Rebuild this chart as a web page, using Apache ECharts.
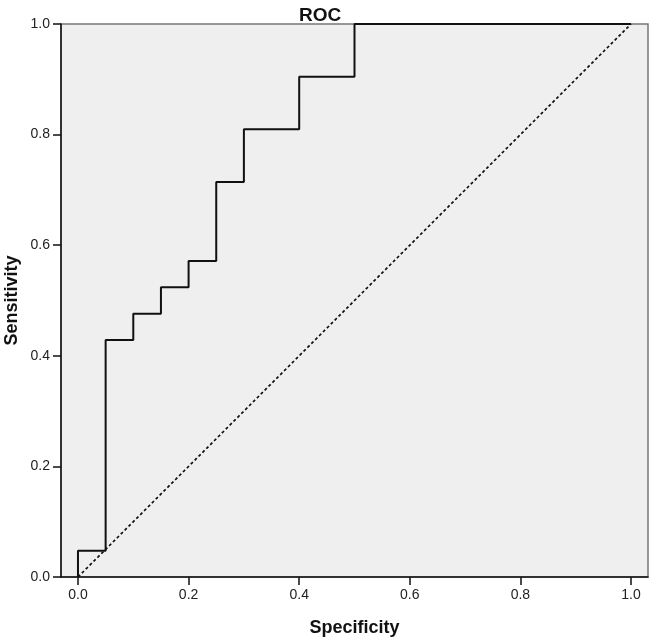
<!DOCTYPE html>
<html>
<head>
<meta charset="utf-8">
<script src="https://cdn.jsdelivr.net/npm/echarts@6/dist/echarts.min.js"></script>
<style>html,body{margin:0;padding:0;background:#fff}#c{width:650px;height:639px}</style>
</head>
<body>
<div id="c"></div>
<script>
// ROC curve points (1 - specificity on x, sensitivity on y)
const rocX = [0, 0, 0.05, 0.05, 0.10, 0.10, 0.15, 0.15, 0.20, 0.20, 0.25, 0.25, 0.30, 0.30, 0.40, 0.40, 0.50, 0.50, 1.0];
const rocY = [0, 1/21, 1/21, 9/21, 9/21, 10/21, 10/21, 11/21, 11/21, 12/21, 12/21, 15/21, 15/21, 17/21, 17/21, 19/21, 19/21, 1, 1];
const refX = [0, 1];
const refY = [0, 1];
const xTicks = [0, 0.2, 0.4, 0.6, 0.8, 1.0];
const yTicks = [0, 0.2, 0.4, 0.6, 0.8, 1.0];

const font = 'Arial, "Liberation Sans", sans-serif';
const chart = echarts.init(document.getElementById('c'), null, {renderer: 'canvas'});
chart.setOption({
  animation: false,
  backgroundColor: '#ffffff',
  title: {
    text: 'ROC', left: 294, top: 1,
    textStyle: {fontFamily: font, fontSize: 19, fontWeight: 'bold', color: '#111'}
  },
  grid: {
    left: 61, right: 2, top: 24, bottom: 62,
    outerBoundsMode: 'none', containLabel: false,
    show: true, backgroundColor: '#efefef', borderColor: '#777', borderWidth: 1.5
  },
  xAxis: {
    type: 'value', min: -0.0307, max: 1.0307,
    name: 'Specificity', nameLocation: 'middle', nameGap: 42, nameMoveOverlap: false,
    nameTextStyle: {fontFamily: font, fontSize: 18, fontWeight: 'bold', color: '#111'},
    axisLine: {show: true, onZero: false, lineStyle: {color: '#111', width: 1.5}},
    axisTick: {show: true, length: 8, customValues: xTicks, lineStyle: {color: '#111', width: 1.5}},
    axisLabel: {customValues: xTicks, margin: 11, fontFamily: font, fontSize: 14, color: '#222',
      formatter: v => v.toFixed(1)},
    splitLine: {show: false}
  },
  yAxis: {
    type: 'value', min: 0, max: 1,
    name: 'Sensitivity', nameLocation: 'middle', nameGap: 40, nameMoveOverlap: false,
    nameTextStyle: {fontFamily: font, fontSize: 18, fontWeight: 'bold', color: '#111'},
    axisLine: {show: true, onZero: false, lineStyle: {color: '#111', width: 1.5}},
    axisTick: {show: true, length: 8, customValues: yTicks, lineStyle: {color: '#111', width: 1.5}},
    axisLabel: {customValues: yTicks, margin: 11, fontFamily: font, fontSize: 14, color: '#222',
      formatter: v => v.toFixed(1)},
    splitLine: {show: false}
  },
  series: [
    {
      type: 'line', data: refX.map((x, i) => [x, refY[i]]),
      symbol: 'none', lineStyle: {color: '#111', width: 1.7, type: [3, 2.5]}
    },
    {
      type: 'line', data: rocX.map((x, i) => [x, rocY[i]]),
      symbol: 'none', lineStyle: {color: '#111', width: 2}
    }
  ]
});
</script>
</body>
</html>
